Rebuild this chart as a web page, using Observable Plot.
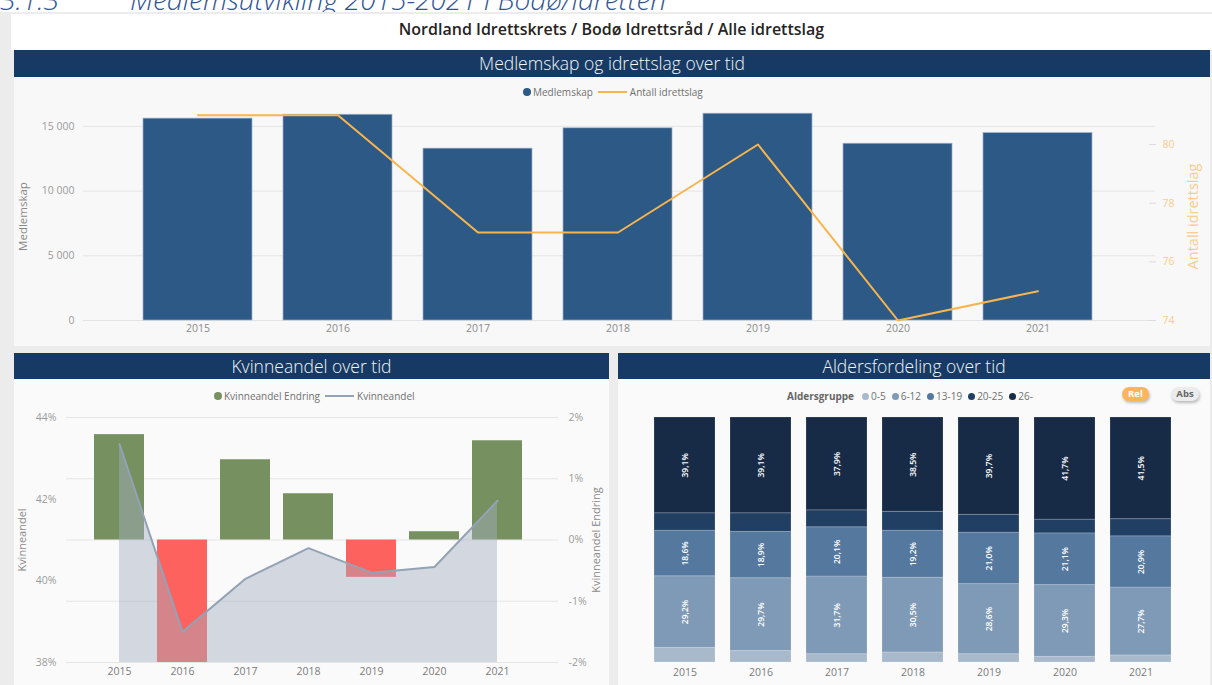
<!DOCTYPE html>
<html><head><meta charset="utf-8">
<script src="https://cdn.jsdelivr.net/npm/d3@7"></script>
<script src="https://cdn.jsdelivr.net/npm/@observablehq/plot@0.6"></script>
<style>
body{margin:0;background:#fff;font-family:"Open Sans",sans-serif;}
#page{position:relative;width:1212px;height:685px;overflow:hidden;background:#fff;}
.box{position:absolute;}
.hdr{position:absolute;background:#163a63;color:#f2f5f9;font-weight:300;font-size:17.5px;text-align:center;line-height:26px;white-space:nowrap;}
.panel{position:absolute;background:#f8f8f8;}
.legend{position:absolute;font-size:10px;color:#707070;white-space:nowrap;display:flex;align-items:center;height:14px;}
.dot{display:inline-block;width:8px;height:8px;border-radius:50%;margin-right:2px;}
.ln{display:inline-block;width:29px;height:2px;margin:0 3px 0 5px;}
.pill{position:absolute;height:14px;line-height:14px;border-radius:8px;font-size:9.5px;font-weight:700;text-align:center;box-shadow:1px 2px 3px rgba(0,0,0,0.25);}
svg{overflow:visible}
</style></head>
<body>
<div id="page"></div>
<script>
// ---------- DATA ----------
const years = ["2015","2016","2017","2018","2019","2020","2021"];
const medlemskap = [15600,15900,13280,14850,15980,13660,14480];
const antallIdrettslag = [81,81,77,77,80,74,75];
const kvinneandel = [43.35,38.75,40.05,40.8,40.2,40.34,41.96];
const kvinneandelEndring = [1.72,-2.0,1.31,0.755,-0.61,0.135,1.62];
const aldersgrupper = ["0-5","6-12","13-19","20-25","26-"];
const alder0_5 = [6.0,4.7,3.4,4.1,3.4,2.3,2.9];
const alder6_12 = [29.2,29.7,31.7,30.5,28.6,29.3,27.7];
const alder13_19 = [18.6,18.9,20.1,19.2,21.0,21.1,20.9];
const alder20_25 = [7.1,7.6,6.9,7.7,7.3,5.6,7.0];
const alder26 = [39.1,39.1,37.9,38.5,39.7,41.7,41.5];
const labeledGroups = ["6-12","13-19","26-"];
const medlemTicks = [0,5000,10000,15000];
const lagTicks = [74,76,78,80];
const kvTicks = [38,40,42,44];
const endringTicks = [-2,-1,0,1,2];

// ---------- STYLE ----------
const FONT = "'Open Sans', sans-serif";
const cBar = "#2c5985", cLine = "#f9b54c", cGreen = "#76905f", cRed = "#fd625e";
const ageColors = ["#a9b9cc","#7f9ab6","#55789f","#213f63","#172b46"];

const nb = d3.formatLocale({decimal:",", thousands:" ", grouping:[3], currency:["","kr"]});
const fmtThousands = nb.format(",d");
const fmtPct1 = d => nb.format(".1f")(d) + "%";

const page = document.getElementById("page");
function el(cls, css, html){const d=document.createElement("div"); d.className=cls; Object.assign(d.style,css); if(html!=null) d.innerHTML=html; page.appendChild(d); return d;}

// ---------- FRAME ----------
const headCss = {top:"-15px",fontSize:"28px",lineHeight:"28px",color:"#2f5597",fontWeight:"300",fontStyle:"italic",whiteSpace:"nowrap"};
el("box",{...headCss,left:"0px"},"3.1.3");
el("box",{...headCss,left:"130px"},"Medlemsutvikling 2015-2021 i Bodø/Idretten");
el("box",{left:"0px",top:"12px",width:"1212px",height:"673px",background:"#ececec"});
el("box",{left:"11px",top:"14px",width:"1201px",height:"36px",background:"#fff"});
el("box",{left:"11px",top:"18px",width:"1201px",textAlign:"center",fontSize:"16px",fontWeight:"600",color:"#252423"},"Nordland Idrettskrets / Bodø Idrettsråd / Alle idrettslag");

el("hdr",{left:"14px",top:"50px",width:"1196px",height:"27px",lineHeight:"27px"},"Medlemskap og idrettslag over tid");
el("panel",{left:"14px",top:"77px",width:"1196px",height:"269px"});
el("hdr",{left:"14px",top:"353px",width:"595px",height:"26px"},"Kvinneandel over tid");
el("panel",{left:"14px",top:"379px",width:"595px",height:"306px",background:"#fafafa"});
el("hdr",{left:"618px",top:"353px",width:"592px",height:"26px"},"Aldersfordeling over tid");
el("panel",{left:"618px",top:"379px",width:"592px",height:"306px",background:"#fafafa"});

// ---------- TOP CHART ----------
const topData = years.map((y,i)=>({year:y, medlemskap:medlemskap[i], lag:antallIdrettslag[i]}));
const topDims = {width:1196, height:268, marginTop:23, marginBottom:25, marginLeft:69};
const topX = {type:"band", domain:years, range:[126,1081], paddingInner:0.22, paddingOuter:0, label:null};
const topStyle = {background:"transparent", fontFamily:FONT, fontSize:"10.5px", overflow:"visible"};

const top1 = Plot.plot({
  ...topDims, marginRight:55, style:topStyle, x:topX,
  y:{domain:[0,17000], label:null},
  marks:[
    Plot.gridY(medlemTicks,{stroke:"#e4e4e4", strokeOpacity:1}),
    Plot.barY(topData,{x:"year", y:"medlemskap", fill:cBar, stroke:"#9fb2c8", strokeWidth:0.7}),
    Plot.axisX({tickSize:0, tickPadding:4, fill:"#8a8a8a"}),
    Plot.axisY({ticks:medlemTicks, tickSize:0, tickPadding:9, tickFormat:fmtThousands, fill:"#9a9a9a", label:null}),
    Plot.text(["Medlemskap"],{text:d=>d, frameAnchor:"left", textAnchor:"middle", rotate:-90, dx:-60, dy:6, fontSize:11.5, fill:"#8a8a8a"})
  ]
});
const top2 = Plot.plot({
  ...topDims, marginRight:62, style:topStyle, x:{...topX, axis:null},
  y:{domain:[74,81.5], label:null},
  marks:[
    Plot.lineY(topData,{x:"year", y:"lag", stroke:cLine, strokeWidth:2}),
    Plot.axisY({anchor:"right", ticks:lagTicks, tickSize:7, tickPadding:7, stroke:"#dddddd", fill:"#f9cd8e", label:null}),
    Plot.text(["Antall idrettslag"],{text:d=>d, frameAnchor:"right", textAnchor:"middle", rotate:-90, dx:45, dy:6, fontSize:14.5, fill:"#f9cd8e"})
  ]
});
el("box",{left:"14px",top:"77px"}).appendChild(top1);
el("box",{left:"14px",top:"77px"}).appendChild(top2);
el("legend",{left:"523px",top:"85px"},`<span class="dot" style="background:${cBar}"></span>Medlemskap<span class="ln" style="background:${cLine}"></span>Antall idrettslag`);

// ---------- BOTTOM LEFT ----------
const kvData = years.map((y,i)=>({year:y, kv:kvinneandel[i], endring:kvinneandelEndring[i]}));
const blDims = {width:595, height:305, marginTop:37, marginBottom:23, marginLeft:52, marginRight:51};
const blX = {type:"band", domain:years, range:[77,511.5], paddingInner:0.2, paddingOuter:0, label:null};
const blStyle = {background:"transparent", fontFamily:FONT, fontSize:"10.5px", overflow:"visible"};
const bl1 = Plot.plot({
  ...blDims, style:blStyle, x:blX,
  y:{domain:[-2,2], label:null},
  marks:[
    Plot.gridY(endringTicks,{stroke:"#e6e6e6", strokeOpacity:1}),
    Plot.barY(kvData,{x:"year", y:"endring", fill:d=>d.endring>=0?cGreen:cRed}),
    Plot.axisX({tickSize:0, tickPadding:5, fill:"#7a7a7a"}),
    Plot.axisY({anchor:"right", ticks:endringTicks, tickSize:0, tickPadding:10, tickFormat:d=>d+"%", fill:"#9a9a9a", label:null}),
    Plot.text(["Kvinneandel Endring"],{text:d=>d, frameAnchor:"right", textAnchor:"middle", rotate:-90, dx:38, fontSize:11, fill:"#8a8a8a"})
  ]
});
const bl2 = Plot.plot({
  ...blDims, style:blStyle, x:{...blX, axis:null},
  y:{domain:[kvTicks[0], kvTicks[kvTicks.length-1]], label:null},
  marks:[
    Plot.areaY(kvData,{x:"year", y1:()=>kvTicks[0], y2:"kv", fill:"#a3b0c2", fillOpacity:0.45}),
    Plot.lineY(kvData,{x:"year", y:"kv", stroke:"#94a2b6", strokeWidth:2}),
    Plot.axisY({ticks:kvTicks, tickSize:0, tickPadding:10, tickFormat:d=>d+"%", fill:"#9a9a9a", label:null}),
    Plot.text(["Kvinneandel"],{text:d=>d, frameAnchor:"left", textAnchor:"middle", rotate:-90, dx:-44, fontSize:11, fill:"#8a8a8a"})
  ]
});
el("box",{left:"14px",top:"380px"}).appendChild(bl1);
el("box",{left:"14px",top:"380px"}).appendChild(bl2);
el("legend",{left:"214px",top:"389px"},`<span class="dot" style="background:${cGreen}"></span>Kvinneandel Endring<span class="ln" style="background:#94a2b6"></span>Kvinneandel`);

// ---------- BOTTOM RIGHT ----------
const ageSeries = [alder0_5, alder6_12, alder13_19, alder20_25, alder26];
const ageData = aldersgrupper.flatMap((g,gi)=>years.map((y,i)=>({year:y, group:g, value:ageSeries[gi][i]})));
const br = Plot.plot({
  width:592, height:305, marginTop:37, marginBottom:23, marginLeft:20, marginRight:20,
  style:{background:"transparent", fontFamily:FONT, fontSize:"10.5px", overflow:"visible"},
  x:{type:"band", domain:years, range:[34,554], paddingInner:0.2, paddingOuter:0, label:null},
  y:{domain:[0,100], axis:null},
  color:{domain:aldersgrupper, range:ageColors},
  marks:[
    Plot.barY(ageData,{x:"year", y:"value", fill:"group", stroke:"#ffffff", strokeOpacity:0.18, strokeWidth:1}),
    Plot.text(ageData, Plot.stackY({x:"year", y:"value", z:"group", text:d=>labeledGroups.includes(d.group)?fmtPct1(d.value):"", rotate:-90, fill:"#ffffff", fontSize:8.5, fontWeight:600})),
    Plot.axisX({tickSize:0, tickPadding:6, fill:"#7a7a7a"})
  ]
});
el("box",{left:"618px",top:"380px"}).appendChild(br);
el("legend",{left:"787px",top:"389px"},
  `<b style="color:#666;margin-right:8px">Aldersgruppe</b>` +
  aldersgrupper.map((g,i)=>`<span class="dot" style="background:${ageColors[i]};width:7px;height:7px;margin-right:2px"></span><span style="margin-right:6px">${g}</span>`).join(""));
el("pill",{left:"1122px",top:"387px",width:"27px",background:"#fdb55a",color:"#fff"},"Rel");
el("pill",{left:"1171px",top:"387px",width:"28px",background:"#ececec",color:"#666"},"Abs");
</script>
</body></html>
